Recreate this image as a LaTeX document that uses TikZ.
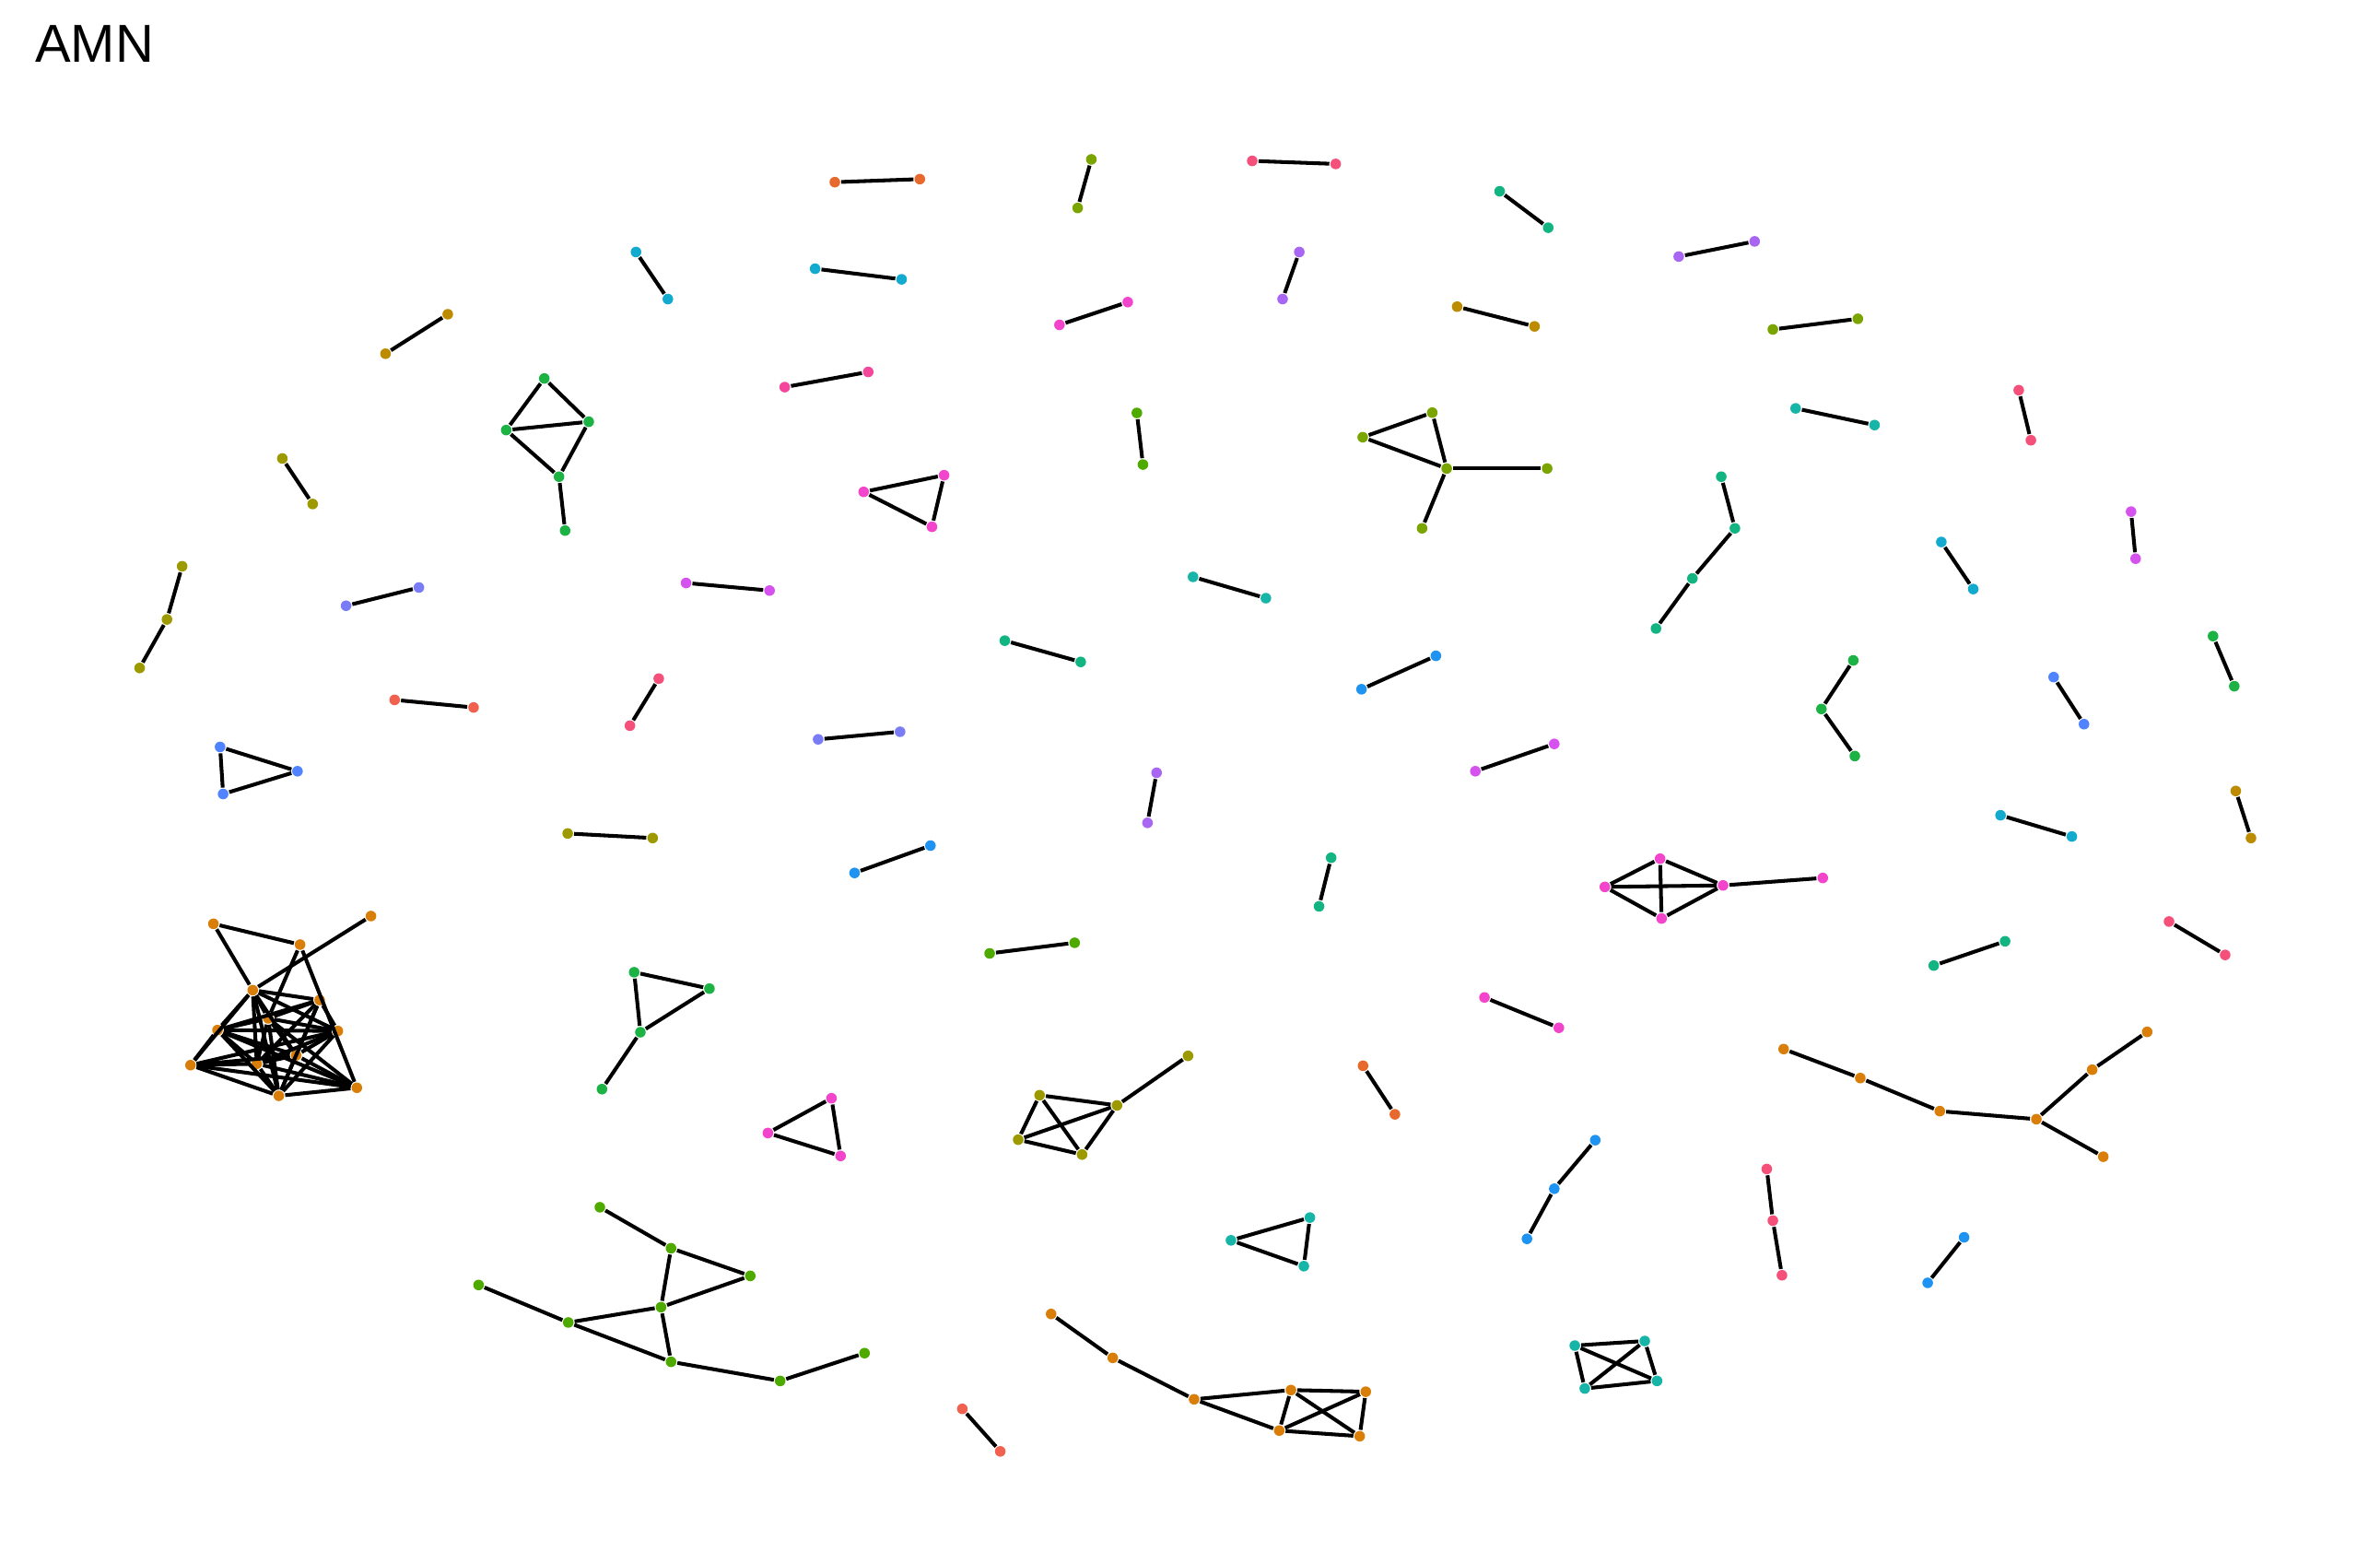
\documentclass[tikz,border=0pt]{standalone}
\usepackage{fontspec}
\setmainfont{Liberation Sans}
\usepackage{tikz}
\definecolor{cRed}{HTML}{F0614F}
\definecolor{cRedOr}{HTML}{E8692E}
\definecolor{cOrange}{HTML}{D97E08}
\definecolor{cGold}{HTML}{BD8B00}
\definecolor{cOlive}{HTML}{9C9A00}
\definecolor{cOliveG}{HTML}{7AA400}
\definecolor{cGreen2}{HTML}{4FAA00}
\definecolor{cGreen}{HTML}{1DB244}
\definecolor{cTealGreen}{HTML}{12B482}
\definecolor{cTeal}{HTML}{17B5A8}
\definecolor{cCyan}{HTML}{13AACF}
\definecolor{cBlue}{HTML}{1E93F2}
\definecolor{cBlue2}{HTML}{5083FF}
\definecolor{cBluePurple}{HTML}{7A7CF5}
\definecolor{cPurple}{HTML}{A866F2}
\definecolor{cMagentaP}{HTML}{D552EE}
\definecolor{cMagenta}{HTML}{F245CB}
\definecolor{cPink}{HTML}{F4469A}
\definecolor{cPinkRed}{HTML}{F5507A}
\tikzset{
  pt/.style={circle, fill=#1, draw=none, inner sep=0pt, minimum size=0.07cm},
  edge/.style={line width=0.7pt, black}
}

\begin{document}
\begin{tikzpicture}[x=0.01cm, y=-0.01cm]
    \useasboundingbox (0,0) rectangle (1568,1022);
    \node [anchor=base west, inner sep=0pt, font=\fontsize{10}{12}\selectfont] (title) at (22.5,40.7) {AMN};
    % pairs
    \foreach \nm/\xa/\ya/\xb/\yb/\col in {
        p1/550/120/606/118/cRedOr, p2/719/105/710/137/cOliveG, p3/825/106/880/108/cPinkRed,
        p4/988/126/1020/150/cTealGreen, p5/419/166/440/197/cCyan, p6/537/177/594/184/cCyan,
        p7/856/166/845/197/cPurple, p8/1106/169/1156/159/cPurple, p9/295/207/254/233/cGold,
        p10/698/214/743/199/cMagenta, p11/960/202/1011/215/cGold, p12/1168/217/1224/210/cOliveG,
        p14/517/255/572/245/cPink, p15/749/272/753/306/cGreen2, p17/1183/269/1235/280/cTeal,
        p18/1330/257/1338/290/cPinkRed, p19/186/302/206/332/cOlive, p22/1404/337/1407/368/cMagentaP,
        p23/1279/357/1300/388/cCyan, p25/228/399/276/387/cBluePurple, p26/452/384/507/389/cMagentaP,
        p27/786/380/834/394/cTeal, p28/662/422/712/436/cTealGreen, p29/897/454/946/432/cBlue,
        p30/1458/419/1472/452/cGreen, p32/1353/446/1373/477/cBlue2, p33/260/461/312/466/cRed,
        p34/434/447/415/478/cPinkRed, p36/539/487/593/482/cBluePurple, p37/762/509/756/542/cPurple,
        p38/972/508/1024/490/cMagentaP, p39/1473/521/1483/552/cGold, p40/1318/537/1365/551/cCyan,
        p41/374/549/430/552/cOlive, p42/563/575/613/557/cBlue, p43/877/565/869/597/cTealGreen,
        p45/1429/607/1466/629/cPinkRed, p46/652/628/708/621/cGreen2, p47/1274/636/1321/620/cTealGreen,
        p50/978/657/1027/677/cMagenta, p52/898/702/919/734/cRedOr, p57/1294/815/1270/845/cBlue,
        p62/634/928/659/956/cRed} {
        \node [pt=\col] (\nm a) at (\xa,\ya) {};
        \node [pt=\col] (\nm b) at (\xb,\yb) {};
        \draw [edge] (\nm a) -- (\nm b);
    }
    % chains of three
    \foreach \nm/\xa/\ya/\xb/\yb/\xc/\yc/\col in {
        c24/120/373/110/408/92/440/cOlive, c31/1221/435/1200/467/1222/498/cGreen,
        c55/1051/751/1024/783/1006/816/cBlue, c56/1164/770/1168/804/1174/840/cPinkRed} {
        \node [pt=\col] (\nm a) at (\xa,\ya) {};
        \node [pt=\col] (\nm b) at (\xb,\yb) {};
        \node [pt=\col] (\nm c) at (\xc,\yc) {};
        \draw [edge] (\nm a) -- (\nm b) -- (\nm c);
    }
    % triangles
    \foreach \nm/\xa/\ya/\xb/\yb/\xc/\yc/\col in {
        t20/569/324/622/313/614/347/cMagenta, t35/145/492/147/523/196/508/cBlue2,
        t53/547.8/723.4/505.9/746.3/553.8/761.4/cMagenta, t58/863/802/811/817/859/834/cTeal} {
        \node [pt=\col] (\nm a) at (\xa,\ya) {};
        \node [pt=\col] (\nm b) at (\xb,\yb) {};
        \node [pt=\col] (\nm c) at (\xc,\yc) {};
        \draw [edge] (\nm a) -- (\nm b) -- (\nm c) -- (\nm a);
    }
    % chain of four
    \node [pt=cTealGreen] (c21a) at (1134,314) {};
    \node [pt=cTealGreen] (c21b) at (1143,348) {};
    \node [pt=cTealGreen] (c21c) at (1115,381) {};
    \node [pt=cTealGreen] (c21d) at (1091,414) {};
    \draw [edge] (c21a) -- (c21b) -- (c21c) -- (c21d);
    % green kite, top left
    \node [pt=cGreen] (v1) at (358.6,249.3) {};
    \node [pt=cGreen] (v2) at (333.5,283.3) {};
    \node [pt=cGreen] (v3) at (387.9,277.8) {};
    \node [pt=cGreen] (v4) at (368.3,314.0) {};
    \node [pt=cGreen] (v5) at (372.3,349.5) {};
    \foreach \a/\b in {v1/v2, v1/v3, v2/v3, v3/v4, v2/v4, v4/v5} { \draw [edge] (\a) -- (\b); }
    % olive star
    \node [pt=cOliveG] (u1) at (897.8,288.0) {};
    \node [pt=cOliveG] (u2) at (943.6,271.8) {};
    \node [pt=cOliveG] (u3) at (953.1,308.6) {};
    \node [pt=cOliveG] (u4) at (1019.3,308.6) {};
    \node [pt=cOliveG] (u5) at (936.9,348.0) {};
    \foreach \a/\b in {u1/u2, u1/u3, u2/u3, u3/u4, u3/u5} { \draw [edge] (\a) -- (\b); }
    % magenta diamond
    \node [pt=cMagenta] (d1) at (1057.3,584.2) {};
    \node [pt=cMagenta] (d2) at (1093.7,565.6) {};
    \node [pt=cMagenta] (d3) at (1094.7,605.0) {};
    \node [pt=cMagenta] (d4) at (1135.2,583.2) {};
    \node [pt=cMagenta] (d5) at (1200.9,578.3) {};
    \foreach \a/\b in {d1/d2, d1/d3, d1/d4, d2/d3, d2/d4, d3/d4, d4/d5} { \draw [edge] (\a) -- (\b); }
    % orange cluster
    \node [pt=cOrange] (k1) at (140.6,608.5) {};
    \node [pt=cOrange] (k2) at (197.7,622.2) {};
    \node [pt=cOrange] (k3) at (244.4,603.4) {};
    \node [pt=cOrange] (k4) at (166.5,652.2) {};
    \node [pt=cOrange] (k5) at (210.6,658.7) {};
    \node [pt=cOrange] (k6) at (176.7,670.8) {};
    \node [pt=cOrange] (k7) at (143.3,678.5) {};
    \node [pt=cOrange] (k8) at (222.6,679.1) {};
    \node [pt=cOrange] (k9) at (195.1,695.1) {};
    \node [pt=cOrange] (k10) at (169.2,700.7) {};
    \node [pt=cOrange] (k11) at (125.5,701.6) {};
    \node [pt=cOrange] (k12) at (235.1,716.5) {};
    \node [pt=cOrange] (k13) at (183.7,721.8) {};
    \foreach \a/\b in {k1/k2, k1/k4, k4/k3, k2/k6, k2/k12,
        k4/k5, k4/k6, k4/k7, k4/k8, k4/k9, k4/k10, k4/k11, k4/k13,
        k5/k6, k5/k7, k5/k10, k5/k9, k5/k13, k5/k8,
        k6/k7, k6/k8, k6/k9, k6/k10, k6/k13, k6/k12,
        k7/k8, k7/k9, k7/k11, k7/k10, k7/k13, k7/k12,
        k8/k9, k8/k10, k8/k13, k8/k11,
        k9/k10, k9/k11, k9/k12, k9/k13,
        k10/k11, k10/k13, k10/k12,
        k11/k13, k11/k12, k12/k13} { \draw [edge] (\a) -- (\b); }
    % green triangle with tail
    \node [pt=cGreen] (g1) at (417.8,640.4) {};
    \node [pt=cGreen] (g2) at (467.4,651.2) {};
    \node [pt=cGreen] (g3) at (421.9,679.9) {};
    \node [pt=cGreen] (g4) at (396.6,717.4) {};
    \foreach \a/\b in {g1/g2, g1/g3, g2/g3, g3/g4} { \draw [edge] (\a) -- (\b); }
    % orange tree, right
    \node [pt=cOrange] (r1) at (1175.1,691.0) {};
    \node [pt=cOrange] (r2) at (1225.6,710.1) {};
    \node [pt=cOrange] (r3) at (1278.0,731.9) {};
    \node [pt=cOrange] (r4) at (1341.6,737.2) {};
    \node [pt=cOrange] (r5) at (1378.4,704.6) {};
    \node [pt=cOrange] (r6) at (1414.6,679.7) {};
    \node [pt=cOrange] (r7) at (1385.7,761.9) {};
    \foreach \a/\b in {r1/r2, r2/r3, r3/r4, r4/r5, r5/r6, r4/r7} { \draw [edge] (\a) -- (\b); }
    % olive kite
    \node [pt=cOlive] (o1) at (684.9,721.4) {};
    \node [pt=cOlive] (o2) at (735.9,728.1) {};
    \node [pt=cOlive] (o3) at (782.7,695.5) {};
    \node [pt=cOlive] (o4) at (670.8,750.7) {};
    \node [pt=cOlive] (o5) at (712.9,760.5) {};
    \foreach \a/\b in {o1/o2, o2/o3, o1/o4, o1/o5, o4/o2, o4/o5, o5/o2} { \draw [edge] (\a) -- (\b); }
    % green tree, bottom
    \node [pt=cGreen2] (q1) at (395.2,795.2) {};
    \node [pt=cGreen2] (q2) at (442.1,822.2) {};
    \node [pt=cGreen2] (q3) at (494.3,840.4) {};
    \node [pt=cGreen2] (q4) at (435.5,861.0) {};
    \node [pt=cGreen2] (q5) at (315.3,846.4) {};
    \node [pt=cGreen2] (q6) at (374.4,871.1) {};
    \node [pt=cGreen2] (q7) at (442.1,897.0) {};
    \node [pt=cGreen2] (q8) at (514.0,909.6) {};
    \node [pt=cGreen2] (q9) at (569.6,891.3) {};
    \foreach \a/\b in {q1/q2, q2/q3, q2/q4, q3/q4, q4/q6, q5/q6, q6/q7, q4/q7, q7/q8, q8/q9} { \draw [edge] (\a) -- (\b); }
    % orange path with box
    \node [pt=cOrange] (s1) at (692.5,865.5) {};
    \node [pt=cOrange] (s2) at (733.1,894.4) {};
    \node [pt=cOrange] (s3) at (786.7,921.7) {};
    \node [pt=cOrange] (s4) at (850.5,915.6) {};
    \node [pt=cOrange] (s5) at (899.8,916.7) {};
    \node [pt=cOrange] (s6) at (842.8,942.3) {};
    \node [pt=cOrange] (s7) at (895.8,946.0) {};
    \foreach \a/\b in {s1/s2, s2/s3, s3/s4, s3/s6, s4/s5, s4/s6, s4/s7, s5/s6, s5/s7, s6/s7} { \draw [edge] (\a) -- (\b); }
    % teal box
    \node [pt=cTeal] (w1) at (1037.5,886.3) {};
    \node [pt=cTeal] (w2) at (1083.6,883.3) {};
    \node [pt=cTeal] (w3) at (1044.1,914.6) {};
    \node [pt=cTeal] (w4) at (1091.7,909.6) {};
    \foreach \a/\b in {w1/w2, w1/w3, w1/w4, w2/w3, w2/w4, w3/w4} { \draw [edge] (\a) -- (\b); }
\end{tikzpicture}
\end{document}
